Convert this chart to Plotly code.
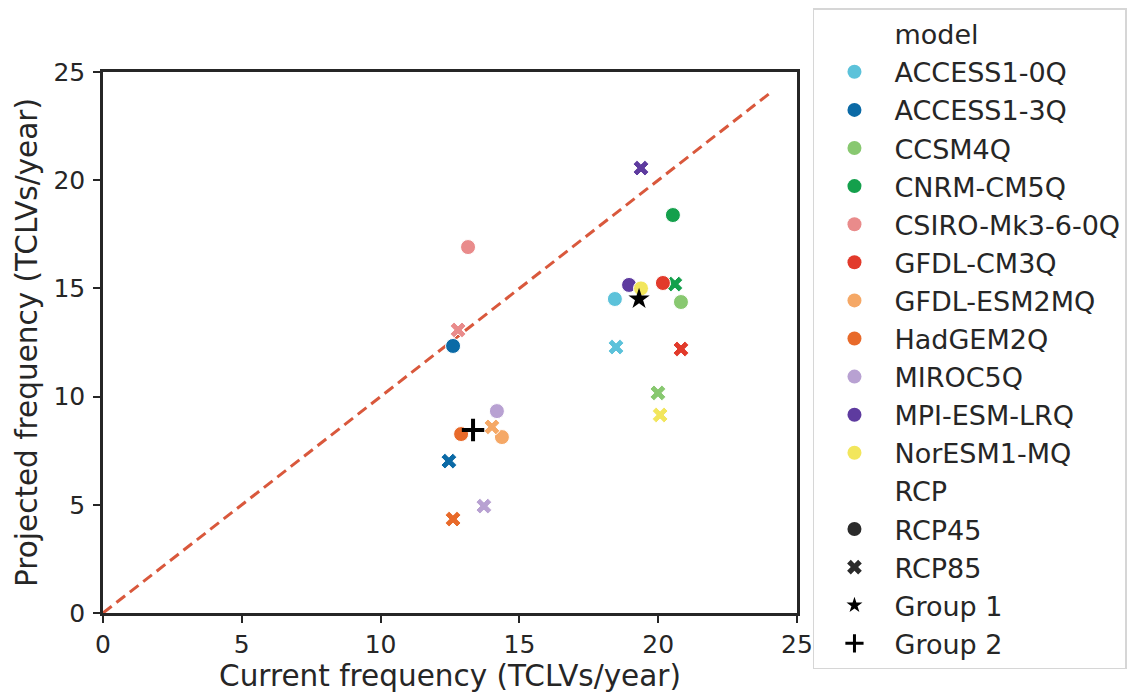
import plotly.graph_objects as go

# Climate models and their colours
models = ["ACCESS1-0Q", "ACCESS1-3Q", "CCSM4Q", "CNRM-CM5Q", "CSIRO-Mk3-6-0Q",
          "GFDL-CM3Q", "GFDL-ESM2MQ", "HadGEM2Q", "MIROC5Q", "MPI-ESM-LRQ", "NorESM1-MQ"]
model_colors = ["#5cc2da", "#0b6aa6", "#88c870", "#14a04c", "#e98b8b",
                "#e23a2b", "#f5a866", "#e86a2a", "#b8a1d2", "#5e3b9f", "#f2e65c"]

# TCLV frequencies (TCLVs/year): current vs projected, per scenario
rcp45_current = [18.44, 12.61, 20.82, 20.53, 13.15, 20.17, 14.37, 12.90, 14.19, 18.95, 19.38]
rcp45_projected = [14.51, 12.34, 14.37, 18.39, 16.91, 15.25, 8.13, 8.27, 9.33, 15.16, 15.00]
rcp85_current = [18.48, 12.46, 19.99, 20.60, 12.79, 20.82, 14.01, 12.61, 13.72, 19.38, 20.07]
rcp85_projected = [12.29, 7.02, 10.17, 15.20, 13.08, 12.20, 8.60, 4.34, 4.94, 20.56, 9.15]

# Group centres
group1_current, group1_projected = [19.31], [14.51]
group2_current, group2_projected = [13.33], [8.46]

# 1:1 reference line
ref_line = [0, 24]

axis_ticks = [0, 5, 10, 15, 20, 25]

FONT = "DejaVu Sans"
TXT = "#262626"

fig = go.Figure()

fig.add_trace(go.Scatter(
    x=ref_line, y=ref_line, mode="lines", showlegend=False,
    line=dict(color="#d9583c", width=3, dash="11px,6px"), hoverinfo="skip"))

for i, m in enumerate(models):
    fig.add_trace(go.Scatter(
        x=[rcp45_current[i]], y=[rcp45_projected[i]], mode="markers", showlegend=False,
        marker=dict(symbol="circle", size=15, color=model_colors[i],
                    line=dict(color="white", width=1)), name=m))
    fig.add_trace(go.Scatter(
        x=[rcp85_current[i]], y=[rcp85_projected[i]], mode="markers", showlegend=False,
        marker=dict(symbol="x", size=14, color=model_colors[i],
                    line=dict(color="white", width=1)), name=m))

fig.add_trace(go.Scatter(
    x=group1_current, y=group1_projected, mode="markers", showlegend=False,
    marker=dict(symbol="star", size=16, color="black"), name="Group 1"))
fig.add_trace(go.Scatter(
    x=group2_current, y=group2_projected, mode="markers", showlegend=False,
    marker=dict(symbol="cross-thin", size=16, color="black",
                line=dict(color="black", width=4)), name="Group 2"))

# Legend entries (hue section, then style section)
def legend_entry(name, symbol, color, size=14, lw=0, lc=None, visible_marker=True):
    fig.add_trace(go.Scatter(
        x=[None], y=[None], mode="markers", name=name, showlegend=True,
        marker=dict(symbol=symbol, size=size, color=color,
                    opacity=1 if visible_marker else 0,
                    line=dict(color=lc or color, width=lw))))

legend_entry("model", "circle", "white", visible_marker=False)
for m, c in zip(models, model_colors):
    legend_entry(m, "circle", c)
legend_entry("RCP", "circle", "white", visible_marker=False)
legend_entry("RCP45", "circle", "#2b2b2b")
legend_entry("RCP85", "x", "#2b2b2b", size=13)
legend_entry("Group 1", "star", "black", size=12)
legend_entry("Group 2", "cross-thin", "black", size=13, lw=3, lc="black")

axis_common = dict(
    range=[0, 25], tickvals=axis_ticks, ticks="outside", ticklen=7, tickwidth=2,
    tickcolor=TXT, showline=True, linewidth=2.5, linecolor=TXT, mirror=True,
    showgrid=False, zeroline=False, tickfont=dict(family=FONT, size=25, color=TXT),
    automargin=False)

fig.update_layout(
    width=1132, height=694,
    margin=dict(l=103, r=335, t=72, b=81, autoexpand=False),
    paper_bgcolor="white", plot_bgcolor="white",
    font=dict(family=FONT, color=TXT),
    xaxis=dict(title=dict(text="Current frequency (TCLVs/year)",
                          font=dict(family=FONT, size=29.5, color=TXT), standoff=2),
               **axis_common),
    yaxis=dict(title=dict(text="Projected frequency (TCLVs/year)",
                          font=dict(family=FONT, size=29.5, color=TXT), standoff=8),
               ticklabelstandoff=3, **axis_common),
    legend=dict(x=1.023, y=1.118, xanchor="left", yanchor="top",
                bordercolor="#d6d6d6", borderwidth=1.5, bgcolor="white",
                font=dict(family=FONT, size=27, color=TXT),
                itemwidth=70, tracegroupgap=0, maxheight=690),
    showlegend=True,
)

fig.write_html("out.html")
